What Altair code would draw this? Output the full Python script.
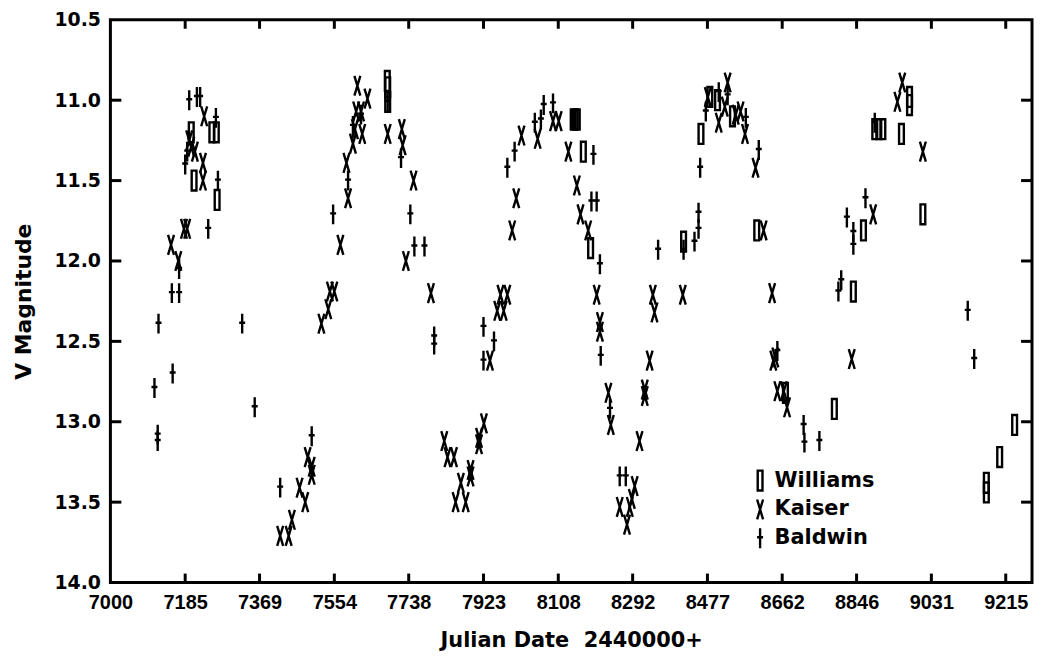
import altair as alt
import pandas as pd

# ---- data (Julian Date - 2440000, V magnitude) ----
williams_day = [7200, 7207, 7251, 7262, 7264,
                7685, 7686, 7686,
                8145, 8150, 8155, 8170, 8188,
                8418, 8461, 8483, 8502, 8539, 8599, 8670,
                8791, 8838, 8863, 8891, 8901, 8911, 8957, 8977, 8977, 9010,
                9167, 9167, 9200, 9237]
williams_mag = [11.20, 11.50, 11.20, 11.20, 11.62,
                10.88, 10.92, 11.01,
                11.12, 11.12, 11.12, 11.32, 11.92,
                11.88, 11.21, 10.98, 11.00, 11.10, 11.81, 12.82,
                12.92, 12.19, 11.81, 11.18, 11.18, 11.18, 11.21, 10.98, 11.03, 11.71,
                13.38, 13.44, 13.22, 13.02]

kaiser_day = [7150, 7168, 7182, 7190, 7195, 7200, 7209, 7229, 7232, 7229,
              7420, 7441, 7449, 7468, 7482, 7488, 7498, 7498, 7522, 7539, 7543, 7554,
              7569, 7584, 7588, 7600, 7605, 7608, 7611, 7620, 7623, 7636, 7686, 7721,
              7723, 7750, 7731, 7793, 7826,
              7834, 7850, 7854, 7867, 7879, 7891, 7891, 7912, 7912, 7924, 7939, 7957,
              7973, 7965, 7982,
              7994, 8004, 8017, 8057, 8095, 8109, 8133, 8154, 8163, 8182,
              8203, 8211, 8211, 8232, 8238, 8260, 8278, 8285, 8290, 8297, 8309, 8322,
              8322, 8334, 8342, 8346, 8416,
              8478, 8505, 8527, 8520, 8547, 8559, 8570, 8596, 8616, 8637, 8640, 8645,
              8650, 8666, 8674,
              8834, 8887, 8947, 8959, 9010]
kaiser_mag = [11.90, 12.00, 11.80, 11.80, 11.25, 11.29, 11.32, 11.39, 11.10, 11.50,
              13.71, 13.71, 13.61, 13.41, 13.50, 13.22, 13.28, 13.33, 12.39, 12.30, 12.19, 12.19,
              11.90, 11.39, 11.61, 11.27, 11.18, 11.07, 10.91, 11.07, 11.21, 10.99, 11.21, 11.18,
              11.28, 11.50, 12.00, 12.20, 13.12,
              13.22, 13.22, 13.50, 13.38, 13.50, 13.30, 13.34, 13.10, 13.14, 13.01, 12.62, 12.31,
              12.31, 12.21, 12.21,
              11.81, 11.61, 11.22, 11.24, 11.13, 11.13, 11.32, 11.53, 11.71, 11.81,
              12.21, 12.38, 12.44, 12.82, 13.02, 13.53, 13.64, 13.53, 13.48, 13.40, 13.12, 12.80,
              12.84, 12.62, 12.21, 12.32, 12.21,
              10.98, 11.14, 10.89, 11.04, 11.09, 11.07, 11.21, 11.42, 11.81, 12.20, 12.62, 12.60,
              12.81, 12.81, 12.91,
              12.61, 11.71, 11.01, 10.89, 11.32]

baldwin_day = [7109, 7119, 7117, 7117, 7152, 7154, 7170, 7170, 7185, 7190, 7195, 7214,
               7222, 7242, 7261, 7266, 7326, 7357,
               7420, 7498,
               7551, 7588, 7600, 7620, 7686, 7719, 7742, 7752, 7777, 7801, 7801,
               7923, 7923, 7949, 7982, 8000, 8050, 8065, 8072, 8095, 8195, 8190, 8203,
               8211, 8213, 8236, 8260, 8275,
               8355, 8418, 8445, 8455, 8455, 8459, 8473, 8505, 8527, 8572, 8604, 8650,
               8715, 8717, 8754,
               8808, 8801, 8822, 8838, 8838, 8868, 8891, 9121, 9137]
baldwin_mag = [12.79, 12.39, 13.08, 13.12, 12.20, 12.70, 12.20, 12.05, 11.40, 11.32, 11.00, 10.98,
               10.98, 11.80, 11.11, 11.50, 12.39, 12.91,
               13.41, 13.09,
               11.71, 11.50, 11.16, 11.09, 11.01, 11.36, 11.71, 11.91, 11.91, 12.47, 12.52,
               12.41, 12.62, 12.50, 11.42, 11.32, 11.14, 11.12, 11.03, 11.02, 11.34, 11.63, 11.63,
               12.02, 12.59, 12.92, 13.34, 13.34,
               11.93, 11.93, 11.88, 11.70, 11.80, 11.42, 11.07, 10.95, 10.97, 11.11, 11.31, 12.56,
               13.02, 13.13, 13.12,
               12.12, 12.19, 11.73, 11.82, 11.90, 11.61, 11.14, 12.31, 12.61]

observers = ["Williams", "Kaiser", "Baldwin"]
x_ticks = [7000, 7185, 7369, 7554, 7738, 7923, 8108, 8292, 8477, 8662, 8846, 9031, 9215]
y_ticks = [10.5, 11.0, 11.5, 12.0, 12.5, 13.0, 13.5, 14.0]

rows = []
for name, days, mags in [("Williams", williams_day, williams_mag),
                         ("Kaiser", kaiser_day, kaiser_mag),
                         ("Baldwin", baldwin_day, baldwin_mag)]:
    for d, m in zip(days, mags):
        rows.append({"observer": name, "jd": d, "mag": m})
df = pd.DataFrame(rows)

xt_df = pd.DataFrame({"jd": x_ticks[1:]})
yt_df = pd.DataFrame({"mag": y_ticks[1:-1]})

W, H = 927, 566
FONT = "Liberation Sans"
WIDE = "DejaVu Sans"

xscale = alt.Scale(domain=[7000, 9280], nice=False, zero=False)
yscale = alt.Scale(domain=[10.5, 14.0], reverse=True, nice=False, zero=False)

xaxis = alt.Axis(values=x_ticks, format="d", title="Julian Date\u00a0\u00a02440000+",
                 labelFont=FONT, labelFontSize=20, labelPadding=10,
                 titleFont=WIDE, titleFontSize=21, titlePadding=17,
                 labelFlush=False, labelOverlap=False)
yaxis = alt.Axis(values=y_ticks, format=".1f", title="V Magnitude",
                 labelFont=WIDE, labelFontSize=19, labelPadding=10,
                 titleFont=WIDE, titleFontSize=22, titlePadding=18,
                 labelFlush=False, labelOverlap=False)

shape_paths = [
    "M-0.24,-1H0.24V1H-0.24Z",               # Williams: open narrow box
    "M-0.3,-1L0.3,1M0.3,-1L-0.3,1",          # Kaiser: tall X
    "M0,-1V1M-0.3,-0.1H0.3",                 # Baldwin: dagger
]

points = alt.Chart(df).mark_point(
    filled=False, color="black", strokeWidth=2.4, size=400, opacity=1
).encode(
    x=alt.X("jd:Q", scale=xscale, axis=xaxis),
    y=alt.Y("mag:Q", scale=yscale, axis=yaxis),
    shape=alt.Shape("observer:N",
                    scale=alt.Scale(domain=observers, range=shape_paths),
                    legend=alt.Legend(orient="none", legendX=642, legendY=452,
                                      title=None, symbolSize=400,
                                      symbolStrokeWidth=2.4, symbolStrokeColor="black",
                                      symbolFillColor="transparent",
                                      labelFontSize=21, labelFont=WIDE,
                                      labelFontWeight="bold", labelOffset=3,
                                      rowPadding=-2, padding=0, labelColor="black")),
)

xt_bottom = alt.Chart(xt_df).mark_rule(color="black", strokeWidth=3).encode(
    x=alt.X("jd:Q", scale=xscale, axis=xaxis), y=alt.value(H - 9), y2=alt.value(H))
xt_top = alt.Chart(xt_df).mark_rule(color="black", strokeWidth=3).encode(
    x=alt.X("jd:Q", scale=xscale, axis=xaxis), y=alt.value(0), y2=alt.value(9))
yt_left = alt.Chart(yt_df).mark_rule(color="black", strokeWidth=3).encode(
    y=alt.Y("mag:Q", scale=yscale, axis=yaxis), x=alt.value(0), x2=alt.value(11))
yt_right = alt.Chart(yt_df).mark_rule(color="black", strokeWidth=3).encode(
    y=alt.Y("mag:Q", scale=yscale, axis=yaxis), x=alt.value(W - 11), x2=alt.value(W))

chart = alt.layer(points, xt_bottom, xt_top, yt_left, yt_right).properties(
    width=W, height=H,
    autosize=alt.AutoSizeParams(type="none"),
    padding={"left": 103, "top": 10, "right": 2, "bottom": 68},
).configure(
    font=FONT,
    background="white",
).configure_view(
    stroke="black", strokeWidth=3,
).configure_axis(
    domain=False, ticks=False, grid=False,
    labelFontWeight="bold", labelColor="black",
    titleFontWeight="bold", titleColor="black",
)

chart.save("out.html", embed_options={"renderer": "svg", "actions": False})
